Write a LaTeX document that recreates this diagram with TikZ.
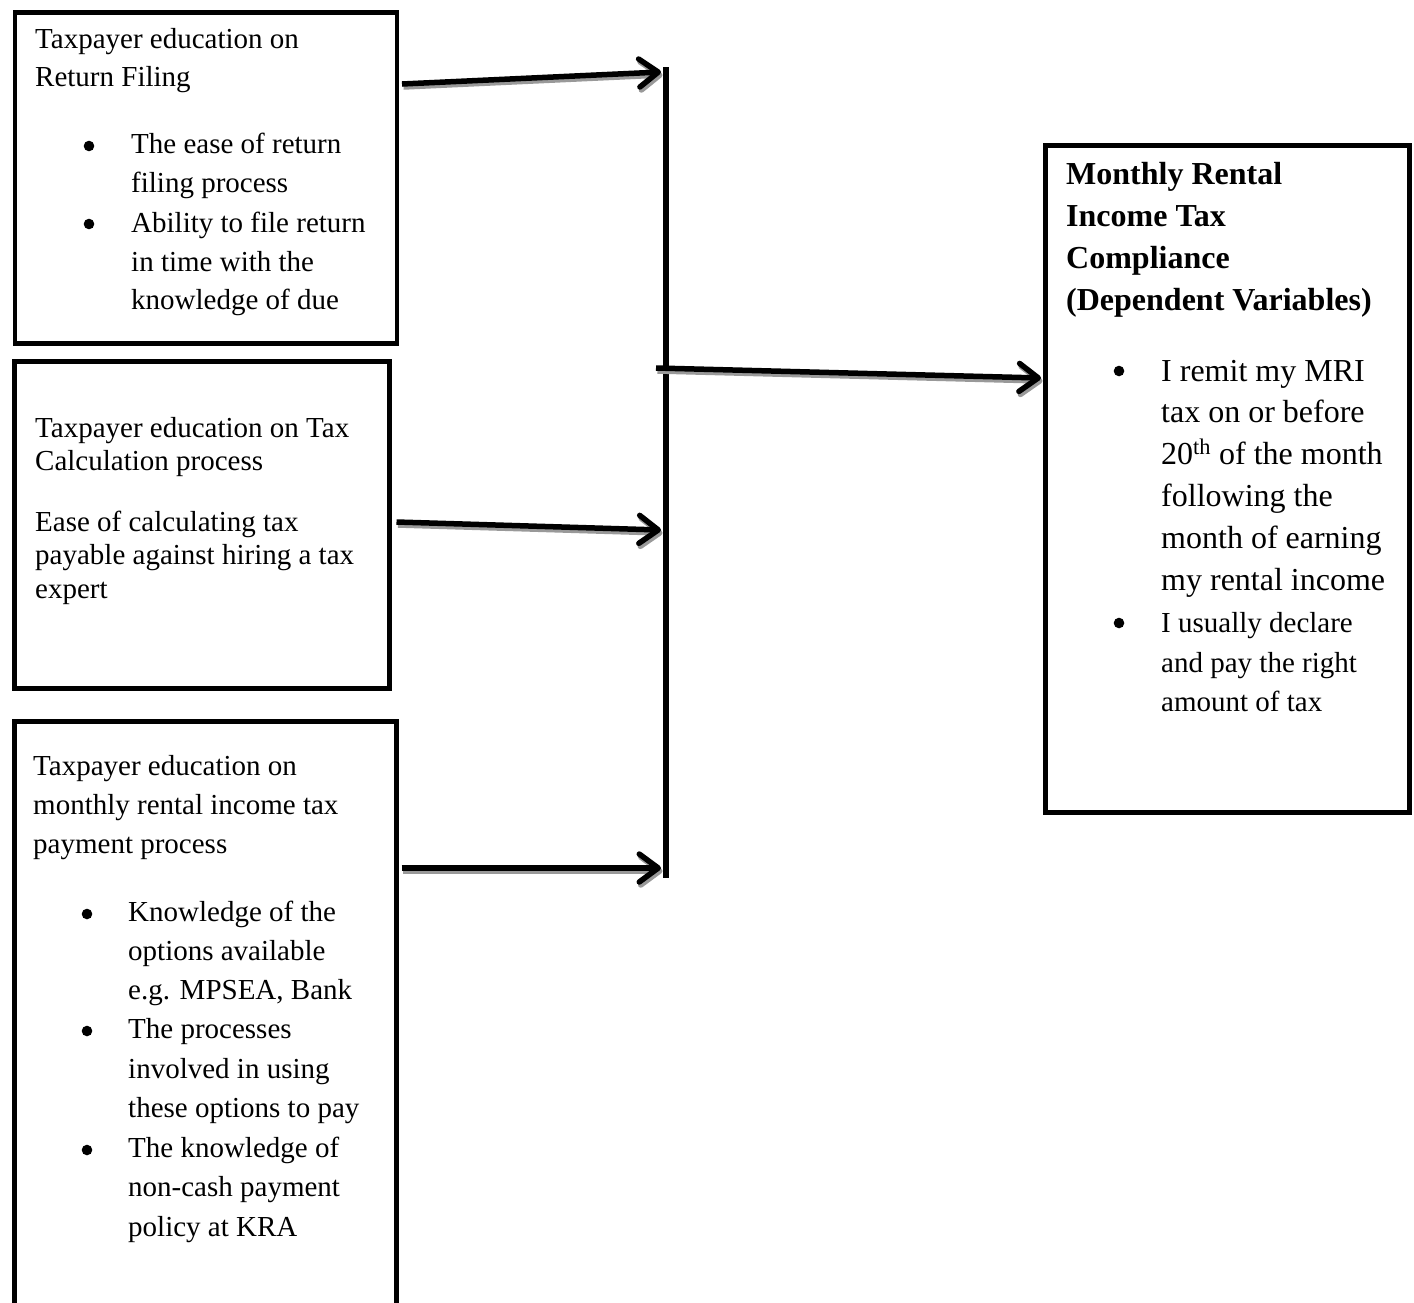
\documentclass[tikz,border=0pt]{standalone}
\usepackage{fontspec}
\setmainfont{Liberation Serif}
\usetikzlibrary{arrows.meta,calc}
\begin{document}
\begin{tikzpicture}[x=1pt,y=-1pt,
  box/.style={draw=black, line width=4.5pt, inner sep=0pt, anchor=north west},
  lt/.style={inner sep=0pt, anchor=base west, font=\fontsize{29}{35}\selectfont},
  rt/.style={inner sep=0pt, anchor=base west, font=\fontsize{32}{38}\selectfont},
  rb/.style={inner sep=0pt, anchor=base west, font=\fontsize{32}{38}\selectfont\bfseries},
  bul/.style={fill=black},
  arrtip/.style={-{Straight Barb[length=19pt,width=28pt,line cap=round,line join=round]}},
  arr/.style={line width=5.5pt, arrtip},
  arrsh/.style={line width=5.5pt, arrtip, draw=black!40, transform canvas={shift={(1.5pt,-3pt)}}},
  bar/.style={line width=6.5pt}]
\useasboundingbox (0,0) rectangle (1414,1302);
% boxes
\node[box, minimum width=382pt, minimum height=331pt] (b1) at (12.5,10) {};
\node[box, minimum width=375pt, minimum height=327pt] (b2) at (12,359) {};
\node[box, minimum width=382pt, minimum height=620pt] (b3) at (12,719) {};
\node[box, minimum width=364pt, minimum height=667pt] (b4) at (1043,143) {};
% box 1 text
\foreach \y/\t [count=\i] in {48/{Taxpayer education on}, 86/{Return Filing}}
  \node[lt] (a\i) at (35,\y) {\t};
\foreach \y/\t [count=\i] in {153/{The ease of return}, 192/{filing process}, 232/{Ability to file return}, 271/{in time with the}, 309/{knowledge of due}}
  \node[lt] (ab\i) at (131,\y) {\t};
\fill[bul] (89,146) circle (5.3pt);
\fill[bul] (89,224) circle (5.3pt);
% box 2 text
\foreach \y/\t [count=\i] in {437/{Taxpayer education on Tax}, 470/{Calculation process}, 531/{Ease of calculating tax}, 564/{payable against hiring a tax}, 598/{expert}}
  \node[lt] (c\i) at (35,\y) {\t};
% box 3 text
\foreach \y/\t [count=\i] in {775/{Taxpayer education on}, 814/{monthly rental income tax}, 853/{payment process}}
  \node[lt] (d\i) at (33,\y) {\t};
\foreach \y/\t [count=\i] in {921/{Knowledge of the}, 960/{options available}, 999/{e.g. MPSEA, Bank}, 1038/{The processes}, 1078/{involved in using}, 1117/{these options to pay}, 1157/{The knowledge of}, 1196/{non-cash payment}, 1236/{policy at KRA}}
  \node[lt] (db\i) at (128,\y) {\t};
\fill[bul] (87,914) circle (5.3pt);
\fill[bul] (87,1031) circle (5.3pt);
\fill[bul] (87,1150) circle (5.3pt);
% right box text
\foreach \y/\t [count=\i] in {184/{Monthly Rental}, 226/{Income Tax}, 268/{Compliance}, 310/{(Dependent Variables)}}
  \node[rb] (e\i) at (1066,\y) {\t};
\foreach \y/\t [count=\i] in {381/{I remit my MRI}, 422/{tax on or before}, 464/{20\textsuperscript{th} of the month}, 506/{following the}, 548/{month of earning}, 590/{my rental income}}
  \node[rt] (eb\i) at (1161,\y) {\t};
\foreach \y/\t [count=\i] in {632/{I usually declare}, 672/{and pay the right}, 711/{amount of tax}}
  \node[lt] (ec\i) at (1161,\y) {\t};
\fill[bul] (1119,371) circle (5.3pt);
\fill[bul] (1119,623) circle (5.3pt);
% bar
\coordinate (barTop) at (666,67);
\coordinate (barBot) at (666,878);
\draw[bar] (barTop) -- (barBot);
% arrow end points
\coordinate (t1) at (661,72);
\coordinate (t2) at (661,530);
\coordinate (t3) at (661,868);
\coordinate (s4) at (656,368);
\coordinate (s1) at ($(b1.north east)+(3,74)$);
\coordinate (s2) at ($(b2.north east)+(5,163)$);
\coordinate (s3) at ($(b3.north east)+(3,149)$);
\coordinate (t4) at ($(b4.north west)+(-2,235)$);
% shadows
\draw[arrsh] (s1) -- (t1);
\draw[arrsh] (s2) -- (t2);
\draw[arrsh] (s3) -- (t3);
\draw[arrsh] (s4) -- (t4);
% arrows
\draw[arr] (s1) -- (t1);
\draw[arr] (s2) -- (t2);
\draw[arr] (s3) -- (t3);
\draw[arr] (s4) -- (t4);
\end{tikzpicture}
\end{document}
